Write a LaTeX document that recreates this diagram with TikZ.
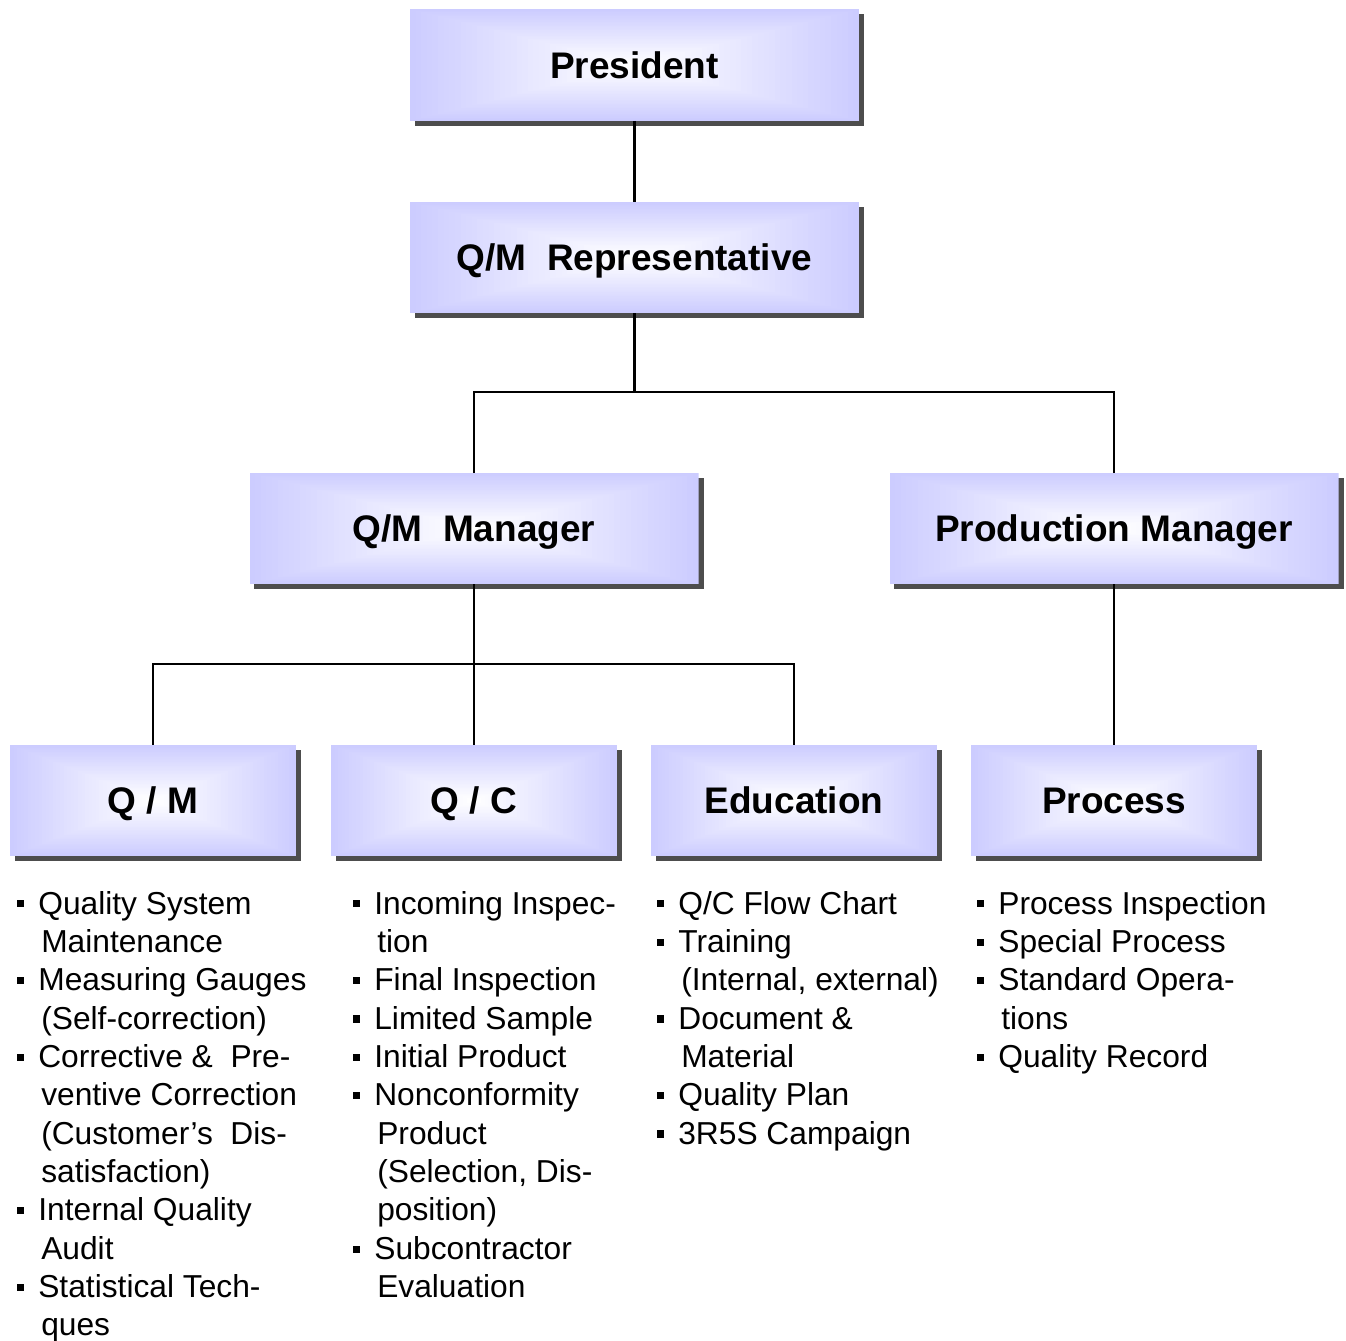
\documentclass[tikz,border=0pt]{standalone}
\usepackage{fontspec}
\setmainfont{Liberation Sans}
\usetikzlibrary{calc,backgrounds}
\definecolor{boxedge}{RGB}{204,204,255}
\definecolor{shadowgray}{RGB}{77,77,77}
\newcommand{\bitem}[1]{\raisebox{4.9pt}{\rule{5.4pt}{5.4pt}}\hspace{10.4pt}#1}
\newcommand{\citem}[1]{\hspace*{18pt}#1}
\tikzset{
  orgbox/.style={rectangle, inner sep=0pt, minimum height=83.5pt,
    text height=20pt, text depth=0pt,
    font=\fontsize{27.75}{33}\selectfont\bfseries,
    path picture={
      \foreach \k in {0,...,39}{
        \pgfmathsetmacro\fr{\k/40}
        \pgfmathsetmacro\mixp{100*\k/39}
        \fill[white!\mixp!boxedge]
          ($(path picture bounding box.south west)!\fr!(path picture bounding box.center)$)
          rectangle
          ($(path picture bounding box.north east)!\fr!(path picture bounding box.center)$);
      }
    }},
  bigbox/.style={orgbox, minimum width=336.75pt},
  smallbox/.style={orgbox, minimum width=214.5pt},
  conn/.style={draw=black, line width=1.6pt},
  listtext/.style={anchor=base west, inner sep=0pt,
    font=\fontsize{23.8}{28.77}\selectfont}
}
\begin{document}
\begin{tikzpicture}[x=0.75pt,y=-0.75pt]
\useasboundingbox (0,0) rectangle (1346,1341);

\node[bigbox] (pres) at (634.5,65) {President};
\node[bigbox] (rep) at (634.5,257.5) {Q/M\ \ Representative};
\node[bigbox] (qmm) at (474,528.5) {Q/M\ \ Manager};
\node[bigbox] (prod) at (1114,528.5) {Production Manager};
\node[smallbox] (qm) at (153,800.5) {Q / M};
\node[smallbox] (qc) at (474,800.5) {Q / C};
\node[smallbox] (edu) at (794,800.5) {Education};
\node[smallbox] (proc) at (1114,800.5) {Process};

\begin{pgfonlayer}{background}
  \foreach \n in {pres,rep,qmm,prod,qm,qc,edu,proc}{
    \fill[shadowgray] ($(\n.south west)+(5,5)$) rectangle ($(\n.north east)+(5,5)$);
  }
\end{pgfonlayer}

\coordinate (j1) at (634.5,392);
\coordinate (j2) at (474,664);
\draw[conn] (pres) -- (rep);
\draw[conn] (rep.south) -- (j1);
\draw[conn] (qmm.north) |- (j1);
\draw[conn] (prod.north) |- (j1);
\draw[conn] (qmm.south) -- (qc.north);
\draw[conn] (qm.north) |- (j2);
\draw[conn] (edu.north) |- (j2);
\draw[conn] (prod.south) -- (proc.north);

\node[listtext] (qmlist) at (17,914) {\parbox[t]{300pt}{\fontsize{23.8}{28.77}\selectfont
\bitem{Quality System}\\
\citem{Maintenance}\\
\bitem{Measuring Gauges}\\
\citem{(Self-correction)}\\
\bitem{Corrective \&\ \ Pre-}\\
\citem{ventive Correction}\\
\citem{(Customer’s\ \ Dis-}\\
\citem{satisfaction)}\\
\bitem{Internal Quality}\\
\citem{Audit}\\
\bitem{Statistical Tech-}\\
\citem{ques}}};

\node[listtext] (qclist) at (353,914) {\parbox[t]{300pt}{\fontsize{23.8}{28.77}\selectfont
\bitem{Incoming Inspec-}\\
\citem{tion}\\
\bitem{Final Inspection}\\
\bitem{Limited Sample}\\
\bitem{Initial Product}\\
\bitem{Nonconformity}\\
\citem{Product}\\
\citem{(Selection, Dis-}\\
\citem{position)}\\
\bitem{Subcontractor}\\
\citem{Evaluation}}};

\node[listtext] (edulist) at (657,914) {\parbox[t]{300pt}{\fontsize{23.8}{28.77}\selectfont
\bitem{Q/C Flow Chart}\\
\bitem{Training}\\
\citem{(Internal, external)}\\
\bitem{Document \&}\\
\citem{Material}\\
\bitem{Quality Plan}\\
\bitem{3R5S Campaign}}};

\node[listtext] (proclist) at (977,914) {\parbox[t]{300pt}{\fontsize{23.8}{28.77}\selectfont
\bitem{Process Inspection}\\
\bitem{Special Process}\\
\bitem{Standard Opera-}\\
\citem{tions}\\
\bitem{Quality Record}}};
\end{tikzpicture}
\end{document}
